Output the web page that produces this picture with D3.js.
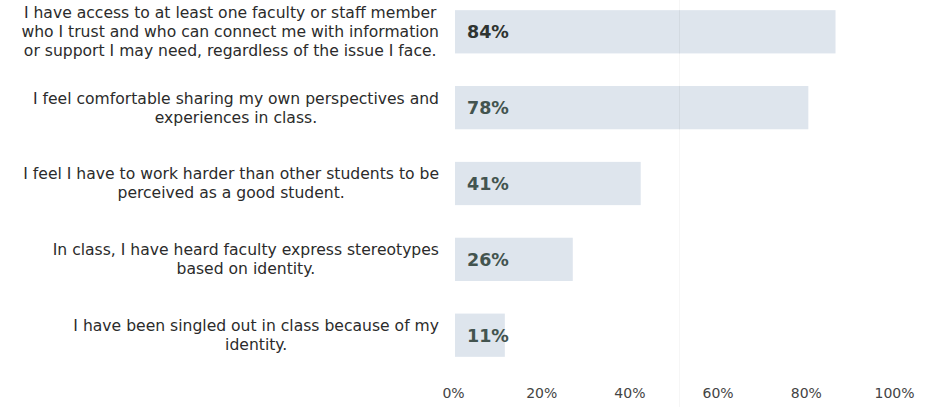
<!DOCTYPE html>
<html>
<head>
<meta charset="utf-8">
<script src="https://cdn.jsdelivr.net/npm/d3@7"></script>
<style>
  html, body { margin: 0; padding: 0; background: #fff; }
  svg { display: block; }
</style>
</head>
<body>
<svg id="chart" width="936" height="407"></svg>
<script>
// Survey statements (top to bottom) and share of students who agreed
const statements = [
  ["I have access to at least one faculty or staff member",
   "who I trust and who can connect me with information",
   "or support I may need, regardless of the issue I face."],
  ["I feel comfortable sharing my own perspectives and",
   "experiences in class."],
  ["I feel I have to work harder than other students to be",
   "perceived as a good student."],
  ["In class, I have heard faculty express stereotypes",
   "based on identity."],
  ["I have been singled out in class because of my",
   "identity."]
];
const agreePct = [84, 78, 41, 26, 11];
const tickValues = [0, 20, 40, 60, 80, 100];

const svg = d3.select("#chart");
const font = "'DejaVu Sans', Verdana, sans-serif";

// Horizontal value scale for the bars
const x = d3.scaleLinear().domain([0, 100]).range([455, 908]);
// Scale used by the percentage axis along the bottom
const xAxisScale = d3.scaleLinear().domain([0, 100]).range([453, 894]);

const y = d3.scaleBand()
  .domain(d3.range(agreePct.length))
  .range([-5, 372])
  .paddingInner(0.43)
  .paddingOuter(0.2);

// faint crease running down the page
svg.append("line")
  .attr("x1", 679.5).attr("x2", 679.5)
  .attr("y1", 0).attr("y2", 407)
  .attr("stroke", "#eeeeee")
  .attr("stroke-width", 1)
  .attr("opacity", 0.5);

// Bars
svg.append("g").selectAll("rect")
  .data(agreePct)
  .join("rect")
  .attr("x", x(0))
  .attr("y", (d, i) => y(i))
  .attr("width", d => x(d) - x(0))
  .attr("height", y.bandwidth())
  .attr("fill", "#dee5ed");

// crease showing over the bars
svg.append("g").selectAll("line")
  .data(agreePct.filter(d => x(d) > 680))
  .join("line")
  .attr("x1", 679.5).attr("x2", 679.5)
  .attr("y1", (d, i) => y(i))
  .attr("y2", (d, i) => y(i) + y.bandwidth())
  .attr("stroke", "#cdd3da")
  .attr("stroke-width", 1)
  .attr("opacity", 0.6);

// Value labels inside the bars
svg.append("g").selectAll("text")
  .data(agreePct)
  .join("text")
  .attr("x", x(0) + 12)
  .attr("y", (d, i) => y(i) + y.bandwidth() / 2)
  .attr("dy", "0.36em")
  .attr("font-family", font)
  .attr("font-weight", "bold")
  .attr("font-size", 17.5)
  .attr("fill", (d, i) => i === 0 ? "#2f3431" : "#43544f")
  .text(d => d + "%");

// Statement labels: each block right-aligned to the bars, lines centred within it
const labelRight = 439;
const lineH = 19;
const labels = svg.append("g");
statements.forEach((lines, i) => {
  const g = labels.append("g");
  const cy = y(i) + y.bandwidth() / 2;
  const t = g.selectAll("text")
    .data(lines)
    .join("text")
    .attr("font-family", font)
    .attr("font-size", 15.6)
    .attr("fill", "#2b2b2b")
    .attr("text-anchor", "middle")
    .attr("y", (d, j) => cy + (j - (lines.length - 1) / 2) * lineH)
    .attr("dy", "0.35em")
    .text(d => d);
  const w = d3.max(t.nodes(), n => n.getComputedTextLength());
  t.attr("x", labelRight - w / 2);
});

// Bottom percentage axis (labels only)
const axis = d3.axisBottom(xAxisScale)
  .tickValues(tickValues)
  .tickFormat(d => d + "%")
  .tickSize(0)
  .tickPadding(0);
const ag = svg.append("g")
  .attr("transform", "translate(0,388)")
  .call(axis);
ag.select(".domain").remove();
ag.selectAll("text")
  .attr("font-family", font)
  .attr("font-size", 14)
  .attr("fill", "#444");
</script>
</body>
</html>
